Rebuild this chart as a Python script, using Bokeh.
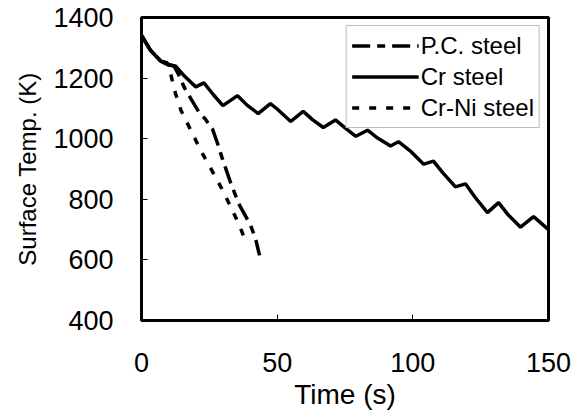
from bokeh.plotting import figure
from bokeh.models import Legend, LegendItem, Range1d, Title
from bokeh.embed import file_html
from bokeh.resources import INLINE

# Cr steel (solid)
cr_t = [0, 3.3, 7, 10, 12.5, 16, 20, 23, 26.5, 30, 35.4, 39, 43, 47.5, 50, 55, 59.6, 63, 67,
        71.5, 75, 79, 83.3, 87, 91.8, 94.7, 99, 104, 107.6, 111, 115.7, 119.4, 123, 127.5,
        131.6, 135, 139.7, 144.5, 150]
cr_T = [1341, 1292, 1256, 1243, 1240, 1205, 1171, 1184, 1145, 1109, 1142, 1110, 1083, 1116,
        1098, 1057, 1090, 1063, 1037, 1062, 1036, 1008, 1028, 1002, 976, 990, 960, 916, 926,
        888, 841, 851, 806, 756, 789, 750, 708, 743, 700]

# P.C. steel (long dash)
pc_t = [0, 3.3, 7, 10, 12, 13.5, 16, 19, 21, 23.5, 26.2, 28, 30.2, 33, 35.8, 38, 40.2, 42, 43.5]
pc_T = [1341, 1292, 1258, 1245, 1240, 1215, 1165, 1120, 1090, 1065, 1031, 985, 923, 851, 786,
        750, 714, 671, 615]

# Cr-Ni steel (short dash)
crni_t = [0, 3.3, 7, 9.5, 11, 12.5, 14.5, 18, 20, 22.5, 25, 28, 30.2, 32.8, 35.8, 38.7]
crni_T = [1341, 1292, 1258, 1250, 1205, 1150, 1095, 1031, 995, 950, 910, 862, 825, 776, 720, 655]

x_ticks = [0, 50, 100, 150]
y_ticks = [400, 600, 800, 1000, 1200, 1400]

FONT = "Liberation Sans"

p = figure(width=573, height=412, x_range=Range1d(0, 150), y_range=Range1d(400, 1400),
           output_backend="svg", toolbar_location=None,
           min_border_left=141, min_border_right=25, min_border_top=17, min_border_bottom=89)

p.grid.visible = False
p.outline_line_color = "black"
p.outline_line_width = 3

for ax in (p.xaxis, p.yaxis):
    ax.axis_line_color = None
    ax.major_tick_in = 6
    ax.major_tick_out = 0
    ax.minor_tick_line_color = None
    ax.major_tick_line_color = "black"
    ax.major_tick_line_width = 1
    ax.major_label_text_font = FONT
    ax.major_label_text_color = "black"
    ax.axis_label_text_font = FONT
    ax.axis_label_text_font_style = "normal"
    ax.axis_label_text_color = "black"

p.xaxis.ticker = x_ticks
p.yaxis.ticker = y_ticks
p.xaxis.major_label_text_font_size = "27px"
p.yaxis.major_label_text_font_size = "27px"
p.xaxis.major_label_standoff = 32
p.yaxis.major_label_standoff = 28
p.xaxis.axis_label = "Time (s)"
p.xaxis.axis_label_text_font_size = "28px"
p.xaxis.axis_label_standoff = 4

ylab = Title(text="Surface Temp. (K)", align="center", offset=44, standoff=19,
             text_font=FONT, text_font_size="24px", text_font_style="normal",
             text_color="black")
p.add_layout(ylab, "left")

r_pc = p.line(pc_t, pc_T, line_color="black", line_width=3.5, line_dash="18 7 8 7")
r_cr = p.line(cr_t, cr_T, line_color="black", line_width=3.5)
r_crni = p.line(crni_t, crni_T, line_color="black", line_width=3.5, line_dash="7 10")

legend = Legend(items=[LegendItem(label="P.C. steel", renderers=[r_pc]),
                       LegendItem(label="Cr steel", renderers=[r_cr]),
                       LegendItem(label="Cr-Ni steel", renderers=[r_crni])],
                location="top_right", margin=8, padding=5, spacing=2,
                glyph_width=67, glyph_height=29, label_height=29, label_standoff=2,
                label_text_font=FONT, label_text_font_size="24px", label_text_color="black",
                border_line_color="#777777", border_line_width=1,
                background_fill_color="white", background_fill_alpha=1)
p.add_layout(legend, "center")

open("out.html", "w").write(file_html(p, INLINE))
